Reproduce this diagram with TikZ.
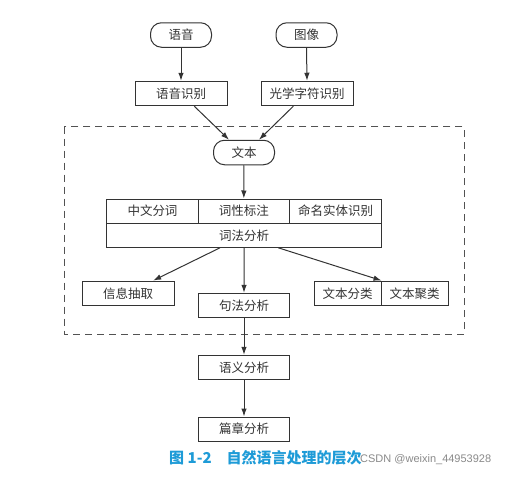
\documentclass[tikz,border=0pt]{standalone}
\usepackage{fontspec}
\setmainfont{Noto Sans CJK SC}
\newfontfamily\wmfont{Liberation Sans}
\usetikzlibrary{arrows.meta}
\definecolor{linec}{HTML}{333333}
\definecolor{txtc}{HTML}{333333}
\definecolor{capc}{HTML}{1E9BD7}
\definecolor{wmc}{HTML}{8A8A8A}
\begin{document}
\begin{tikzpicture}[x=1pt,y=-1pt,
  box/.style={draw=linec, line width=1pt, minimum height=24.5pt, inner sep=0pt,
    font=\fontsize{12.5pt}{13pt}\selectfont, text=txtc},
  pill/.style={box, rounded corners=11pt},
  arr/.style={draw=linec, line width=1pt, -{Latex[length=8pt,width=5.5pt]}},
  frame/.style={draw=linec!85, line width=1pt, dash pattern=on 7pt off 5pt}]
\fill[white] (0,0) rectangle (507,479);
\useasboundingbox (0,0) rectangle (507,479);

% dashed frame
\draw[frame] (64.3,126.7) rectangle (464,334);

% inputs
\node[pill, minimum width=61pt] (yy) at (181,35) {语音};
\node[pill, minimum width=61pt] (tx) at (306.5,35) {图像};
\node[box, minimum width=92pt] (yysb) at (181,93.5) {语音识别};
\node[box, minimum width=92pt] (gx) at (307,93.5) {光学字符识别};
\node[pill, minimum width=61pt] (wb) at (244,152.5) {文本};

% lexical block
\node[box, minimum width=91.6pt, minimum height=24.3pt] (fc) at (152.5,211.15) {中文分词};
\node[box, minimum width=91pt, minimum height=24.3pt] (cx) at (243.8,211.15) {词性标注};
\node[box, minimum width=92.4pt, minimum height=24.3pt] (mm) at (335.5,211.15) {命名实体识别};
\node[box, minimum width=275pt, minimum height=24pt] (cf) at (244.2,235.3) {词法分析};

% applications
\node[box, minimum width=91.7pt] (xx) at (128.2,293.3) {信息抽取};
\node[box, minimum width=91.4pt, minimum height=24pt] (jf) at (244,305.3) {句法分析};
\node[box, minimum width=67pt] (fl) at (347.5,293.3) {文本分类};
\node[box, minimum width=67.3pt] (jl) at (414.65,293.3) {文本聚类};

% deeper levels
\node[box, minimum width=91.4pt, minimum height=24pt] (yyfx) at (244,367.3) {语义分析};
\node[box, minimum width=91.4pt, minimum height=24pt] (pz) at (244,429) {篇章分析};

% connectors
\draw[arr] (yy) -- (yysb);
\draw[arr] (tx.south) -- (gx.north);
\draw[arr] ([xshift=13.3pt]yysb.south) -- ([xshift=-15pt]wb.north);
\draw[arr] ([xshift=-13.7pt]gx.south) -- ([xshift=15pt]wb.north);
\draw[arr] (wb) -- (cx);
\draw[arr] ([xshift=-24.2pt]cf.south) -- ([xshift=25pt]xx.north);
\draw[arr] (cf.south) -- (jf.north);
\draw[arr] ([xshift=34.1pt]cf.south) -- (fl.north east);
\draw[arr] (jf) -- (yyfx);
\draw[arr] (yyfx) -- (pz);

% caption
\node[anchor=west, inner sep=0pt, text=capc, font=\bfseries\fontsize{15pt}{16pt}\selectfont]
  (cap) at (169,458) {图 1-2\hspace{1em}自然语言处理的层次};
\node[anchor=west, inner sep=0pt, text=wmc, font=\wmfont\fontsize{11pt}{12pt}\selectfont]
  (wm) at (360,460) {CSDN @weixin\_44953928};
\end{tikzpicture}
\end{document}
